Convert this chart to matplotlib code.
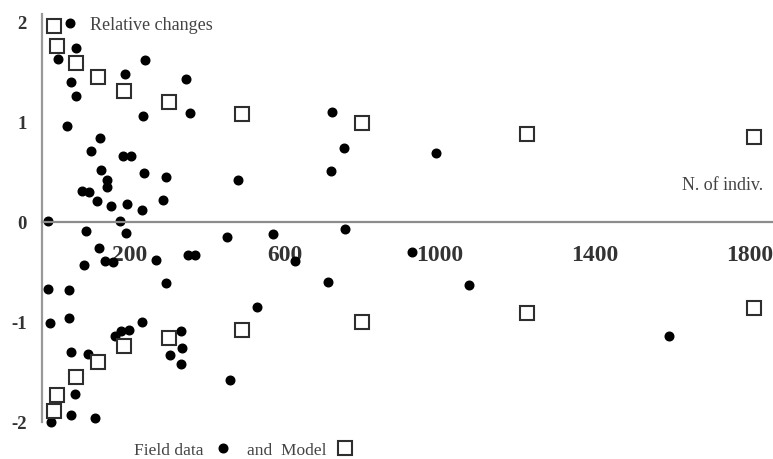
import matplotlib
matplotlib.use("Agg")
import matplotlib.pyplot as plt
from matplotlib.lines import Line2D

plt.rcParams['font.family'] = ['Liberation Serif', 'DejaVu Serif']

# Field data (N of individuals, relative change)
field_n = [45, 61, 14, 239, 187, 345, 48, 61, 355, 234,
           37, 123, 99, 182, 203, 125, 236, 293, 141, 141,
           76, 94, 115, 151, 192, 231, 285, -12, 174, 87,
           190, 120, 136, 156, 81, 267, 350, 368, 293, -12,
           43, 43, -6, 231, 161, 177, 198, 332, 334, 303,
           332, 48, 92, 58, 48, 110, -4, 458, 451, 528,
           569, 626, 712, 755, 722, 753, 719, 990, 928, 1075,
           1592, 479]
field_chg = [1.98, 1.73, 1.62, 1.61, 1.47, 1.42, 1.39, 1.25, 1.08, 1.05,
             0.95, 0.83, 0.70, 0.65, 0.65, 0.51, 0.48, 0.44, 0.41, 0.34,
             0.30, 0.29, 0.20, 0.15, 0.17, 0.11, 0.21, 0.01, 0.01, -0.09,
             -0.11, -0.26, -0.39, -0.40, -0.43, -0.38, -0.33, -0.33, -0.61, -0.67,
             -0.68, -0.96, -1.01, -1.00, -1.14, -1.09, -1.08, -1.09, -1.26, -1.33,
             -1.42, -1.30, -1.32, -1.72, -1.93, -1.96, -2.00, -1.58, -0.15, -0.85,
             -0.12, -0.39, -0.60, -0.07, 1.09, 0.73, 0.50, 0.68, -0.30, -0.63,
             -1.14, 0.41]

# Model (upper and lower branch)
model_n = [4, 12, 61, 117, 185, 301, 488, 800, 1225, 1810]
model_up = [1.95, 1.75, 1.58, 1.44, 1.30, 1.19, 1.07, 0.98, 0.87, 0.84]
model_low = [-1.89, -1.73, -1.55, -1.40, -1.24, -1.16, -1.08, -1.00, -0.91, -0.86]

x_ticks = [200, 600, 1000, 1400, 1800]
y_ticks = [-2, -1, 0, 1, 2]
y_labels = ['-2', '-1', '0', '1', '2']

fig = plt.figure(figsize=(7.73, 4.60), dpi=100)
ax = fig.add_axes([42 / 773, 37 / 460, 731 / 773, 408 / 460])

ax.plot(field_n, field_chg, linestyle='none', marker='o', markersize=6.2,
        color='black', clip_on=False, zorder=2)
sq = dict(linestyle='none', marker='s', markersize=10.5, markerfacecolor='white',
          markeredgecolor='#2e2e2e', markeredgewidth=1.5, clip_on=False, zorder=3)
ax.plot(model_n, model_up, **sq)
ax.plot(model_n, model_low, **sq)

ax.set_xlim(-27, 1860)
ax.set_ylim(-2.0, 2.07)

for s in ['top', 'right']:
    ax.spines[s].set_visible(False)
ax.spines['bottom'].set_position(('data', 0))
ax.spines['left'].set_color('#999999')
ax.spines['bottom'].set_color('#8c8c8c')
ax.spines['left'].set_linewidth(1.6)
ax.spines['bottom'].set_linewidth(1.6)

ax.set_xticks(x_ticks)
ax.set_xticklabels([str(t) for t in x_ticks], fontsize=17, fontweight='bold', color='#333333')
ax.set_yticks(y_ticks)
ax.set_yticklabels(y_labels, fontsize=13.5, fontweight='bold', color='#333333')
ax.tick_params(axis='x', length=0, pad=16)
ax.tick_params(axis='y', length=0, pad=11)

ax.text(0.066, 0.975, 'Relative changes', transform=ax.transAxes, fontsize=13,
        color='#444444', va='center', ha='left')
ax.text(0.986, 0.582, 'N. of indiv.', transform=ax.transAxes,
        fontsize=13, color='#444444', va='center', ha='right')

handles = [Line2D([], [], linestyle='none', marker='o', markersize=6.2, color='black'),
           Line2D([], [], linestyle='none', marker='s', markersize=10,
                  markerfacecolor='white', markeredgecolor='#2e2e2e', markeredgewidth=1.5)]
fig.legend(handles, ['Field data', 'and  Model'], ncol=2, markerfirst=False,
           frameon=False, loc='center', bbox_to_anchor=(244 / 773, 1 - 451 / 460),
           fontsize=12.5, labelcolor='#444444', handlelength=1.0,
           handletextpad=0.6, columnspacing=0.9, borderpad=0.1)

fig.savefig('out.png', dpi=100)
